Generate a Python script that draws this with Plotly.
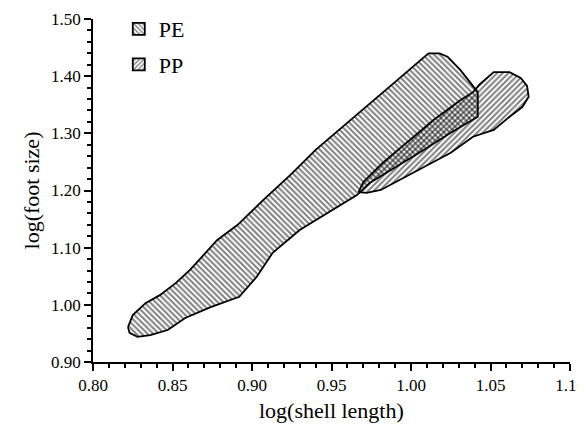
import plotly.graph_objects as go

# outline of the PE region (log shell length, log foot size)
pe_x = [0.822, 0.825, 0.833, 0.842, 0.852, 0.861, 0.878, 0.891, 0.907, 0.924, 0.940,
        0.962, 0.981, 0.993, 1.006, 1.011, 1.018, 1.023, 1.031, 1.039, 1.042, 1.042,
        1.025, 1.008, 0.987, 0.974, 0.966, 0.951, 0.930, 0.913, 0.903, 0.892, 0.874,
        0.858, 0.847, 0.836, 0.828, 0.823]
pe_y = [0.961, 0.982, 1.003, 1.017, 1.038, 1.061, 1.113, 1.140, 1.183, 1.227, 1.271,
        1.323, 1.367, 1.397, 1.428, 1.440, 1.440, 1.434, 1.411, 1.383, 1.372, 1.329,
        1.301, 1.271, 1.236, 1.213, 1.192, 1.166, 1.131, 1.091, 1.049, 1.014, 0.996,
        0.977, 0.956, 0.947, 0.944, 0.951]

# outline of the PP region
pp_x = [0.967, 0.970, 0.982, 0.997, 1.014, 1.031, 1.039, 1.043, 1.052, 1.062, 1.069,
        1.073, 1.074, 1.070, 1.062, 1.052, 1.039, 1.025, 1.001, 0.981, 0.972]
pp_y = [1.197, 1.215, 1.248, 1.283, 1.323, 1.358, 1.372, 1.385, 1.407, 1.407, 1.397,
        1.383, 1.364, 1.346, 1.329, 1.306, 1.294, 1.266, 1.231, 1.201, 1.196]

groups = ['PE', 'PP']
outlines = [(pe_x, pe_y), (pp_x, pp_y)]
hatches = ['\\', '/']

serif = 'Liberation Serif'

fig = go.Figure()
for name, (xs, ys), hatch in zip(groups, outlines, hatches):
    fig.add_trace(go.Scatter(
        x=xs + xs[:1], y=ys + ys[:1], mode='lines', fill='toself',
        fillcolor='rgba(0,0,0,0)',
        fillpattern=dict(shape=hatch, fgcolor='black', bgcolor='rgba(0,0,0,0)',
                         size=4, solidity=0.5),
        line=dict(color='black', width=1.8),
        legendgroup=name, showlegend=False, hoverinfo='skip'))

# square hatched swatches for the legend
for name, hatch in zip(groups, hatches):
    fig.add_trace(go.Bar(
        x=[None], y=[None], name=name, legendgroup=name,
        marker=dict(color='white', line=dict(color='black', width=1.8),
                    pattern=dict(shape=hatch, fgcolor='black', bgcolor='white',
                                 size=4, solidity=0.45))))

axis_common = dict(showgrid=False, zeroline=False, showline=True, linecolor='black',
                   linewidth=1.5, ticks='outside', ticklen=7, tickwidth=1.5,
                   tickcolor='black', tickformat='.2f', mirror=False, automargin=False,
                   ticklabeloverflow='allow',
                   tickfont=dict(family=serif, size=17, color='black'))

fig.update_xaxes(range=[0.80, 1.10], dtick=0.05, tick0=0.80,
                 minor=dict(dtick=0.01, ticks='outside', ticklen=4, tickwidth=1.5,
                            tickcolor='black'),
                 **axis_common)
fig.update_yaxes(range=[0.90, 1.50], dtick=0.10, tick0=0.90,
                 minor=dict(dtick=0.02, ticks='outside', ticklen=4, tickwidth=1.5,
                            tickcolor='black'),
                 **axis_common)

# axis titles as annotations (the y title misplaces itself with fixed margins)
title_font = dict(family=serif, size=22, color='black')
fig.add_annotation(text='log(shell length)', xref='paper', yref='paper',
                   x=0.5, y=-0.14, xanchor='center', yanchor='middle',
                   showarrow=False, font=title_font)
fig.add_annotation(text='log(foot size)', xref='paper', yref='paper',
                   x=-0.128, y=0.5, xanchor='center', yanchor='middle',
                   textangle=-90, showarrow=False, font=title_font)

# the page body adds an 8px offset, so the figure is 8px smaller than the window
fig.update_layout(
    width=577, height=424,
    margin=dict(l=85, r=15, t=11, b=70, autoexpand=False),
    plot_bgcolor='white', paper_bgcolor='white',
    font=dict(family=serif, color='black'),
    legend=dict(xref='container', yref='container', x=0.192, y=1.05,
                xanchor='left', yanchor='top',
                bgcolor='rgba(0,0,0,0)', font=dict(family=serif, size=22),
                tracegroupgap=4),
)

fig.write_html('out.html')
